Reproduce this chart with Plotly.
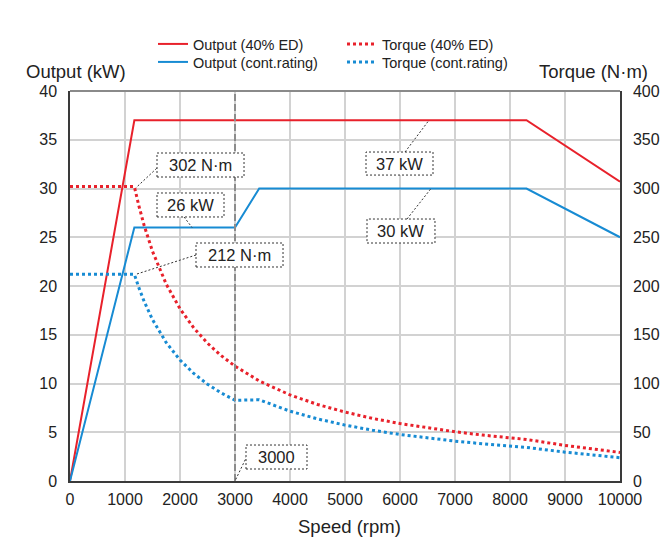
import plotly.graph_objects as go

# Output curves (kW) vs speed (rpm)
speed_out_40 = [0, 1170, 8300, 10000]
output_40 = [0, 37, 37, 30.7]

speed_out_cont = [0, 1170, 3000, 3440, 8300, 10000]
output_cont = [0, 26, 26, 30, 30, 25]

# Torque curves (N·m) vs speed (rpm)
speed_trq = [0, 1170, 1250, 1350, 1500, 1750, 2000, 2250, 2500, 2750, 3000, 3440,
             4000, 4500, 5000, 5500, 6000, 6500, 7000, 7500, 8000, 8300, 9000, 9500, 10000]
torque_40 = [302, 302, 282.7, 261.7, 235.5, 201.9, 176.7, 157.0, 141.3, 128.5, 117.8, 102.7,
             88.3, 78.5, 70.7, 64.2, 58.9, 54.4, 50.5, 47.1, 44.2, 42.6, 36.5, 32.7, 29.3]
torque_cont = [212, 212, 198.6, 183.9, 165.5, 141.9, 124.1, 110.3, 99.3, 90.3, 82.8, 83.3,
               71.6, 63.7, 57.3, 52.1, 47.7, 44.1, 40.9, 38.2, 35.8, 34.5, 29.6, 26.6, 23.9]

x_ticks = [0, 1000, 2000, 3000, 4000, 5000, 6000, 7000, 8000, 9000, 10000]
x_tick_text = [str(v) for v in x_ticks]
y_ticks = [0, 5, 10, 15, 20, 25, 30, 35, 40]
y2_ticks = [0, 50, 100, 150, 200, 250, 300, 350, 400]

RED = "#e8212b"
BLUE = "#178bd3"
FONT = "Liberation Sans, Arial, sans-serif"
TXT = "#222222"

W, H = 671, 538
L, R, T, B = 70, 51, 91, 57
pw, ph = W - L - R, H - T - B


def px_x(p):
    return (p - L) / pw


def px_y(p):
    return (H - B - p) / ph


fig = go.Figure()
fig.add_trace(go.Scatter(x=speed_out_40, y=output_40, mode="lines", name="Output (40% ED)",
                         line=dict(color=RED, width=2), legend="legend", showlegend=True))
fig.add_trace(go.Scatter(x=speed_out_cont, y=output_cont, mode="lines", name="Output (cont.rating)",
                         line=dict(color=BLUE, width=2), legend="legend2", showlegend=True))
fig.add_trace(go.Scatter(x=speed_trq, y=torque_40, mode="lines", name="Torque (40% ED)",
                         line=dict(color=RED, width=3, dash="dot"), yaxis="y2", legend="legend3",
                         showlegend=True))
fig.add_trace(go.Scatter(x=speed_trq, y=torque_cont, mode="lines", name="Torque (cont.rating)",
                         line=dict(color=BLUE, width=3, dash="dot"), yaxis="y2", legend="legend4",
                         showlegend=True))

# Callout boxes: (text, x0, x1, y0, y1, leader from, leader to)
callouts = [
    ("302 N·m", 1582, 3164, 31.18, 33.64, (1576, 32.07), (1200, 30.08)),
    ("26 kW", 1582, 2800, 27.08, 29.54, (2073, 27.08), (2220, 26.0)),
    ("212 N·m", 2291, 3873, 21.95, 24.41, (2291, 23.18), (1200, 21.2)),
    ("37 kW", 5382, 6600, 31.38, 33.74, (6091, 33.74), (6527, 37.0)),
    ("30 kW", 5400, 6636, 24.41, 26.87, (6127, 26.87), (6564, 30.0)),
    ("3000", 3200, 4309, 1.23, 3.69, (3218, 2.56), (3000, 0.0)),
]

shapes = [
    # speed marker at 3000 rpm
    dict(type="line", xref="x", yref="paper", x0=3000, x1=3000, y0=0, y1=1,
         line=dict(color="#8c8c8c", width=2, dash="7px,3px"), layer="above"),
    # top frame
    dict(type="line", xref="paper", yref="paper", x0=0, x1=1, y0=1, y1=1,
         line=dict(color="#8a8a8a", width=2), layer="above"),
]
annotations = []
for text, x0, x1, y0, y1, p0, p1 in callouts:
    shapes.append(dict(type="line", xref="x", yref="y", x0=p0[0], y0=p0[1], x1=p1[0], y1=p1[1],
                       line=dict(color="#333333", width=1, dash="2px,2px"), layer="above"))
    shapes.append(dict(type="rect", xref="x", yref="y", x0=x0, x1=x1, y0=y0, y1=y1,
                       fillcolor="white", line=dict(color="#333333", width=1, dash="2px,2px"),
                       layer="above"))
    annotations.append(dict(x=(x0 + x1) / 2, y=(y0 + y1) / 2, xref="x", yref="y", text=text,
                            showarrow=False, font=dict(family=FONT, size=16.5, color=TXT)))

# Axis titles
for text, cx, cy in [("Output (kW)", 76, 72), ("Torque (N·m)", 593, 72), ("Speed (rpm)", 349, 526)]:
    annotations.append(dict(x=px_x(cx), y=px_y(cy), xref="paper", yref="paper", text=text,
                            xanchor="center", yanchor="middle", showarrow=False,
                            font=dict(family=FONT, size=18.5, color=TXT)))

axis_common = dict(showline=True, linecolor="#3a3a3a", linewidth=1.5, ticks="",
                   tickfont=dict(family=FONT, size=16, color=TXT), zeroline=False)


def legend_at(x_px, y_px):
    return dict(x=px_x(x_px), y=px_y(y_px), xanchor="left", yanchor="middle",
                bgcolor="rgba(0,0,0,0)", font=dict(family=FONT, size=14.5, color=TXT),
                borderwidth=0)


fig.update_layout(
    width=W, height=H,
    showlegend=True,
    margin=dict(l=L, r=R, t=T, b=B, pad=0),
    paper_bgcolor="white", plot_bgcolor="white",
    font=dict(family=FONT, color=TXT),
    xaxis=dict(range=[0, 10000], tickvals=x_ticks, ticktext=x_tick_text, showgrid=True,
               gridcolor="#d2d2d2", gridwidth=2, ticklabelstandoff=3, **axis_common),
    yaxis=dict(range=[0, 40], tickvals=y_ticks, showgrid=True, gridcolor="#d2d2d2",
               gridwidth=2, ticklabelstandoff=8, **axis_common),
    yaxis2=dict(range=[0, 400], tickvals=y2_ticks, overlaying="y", side="right",
                showgrid=False, ticklabelstandoff=8, **axis_common),
    legend=legend_at(153, 44),
    legend2=legend_at(153, 62),
    legend3=legend_at(342, 44),
    legend4=legend_at(342, 62),
    shapes=shapes,
    annotations=annotations,
)

fig.write_html("out.html")
